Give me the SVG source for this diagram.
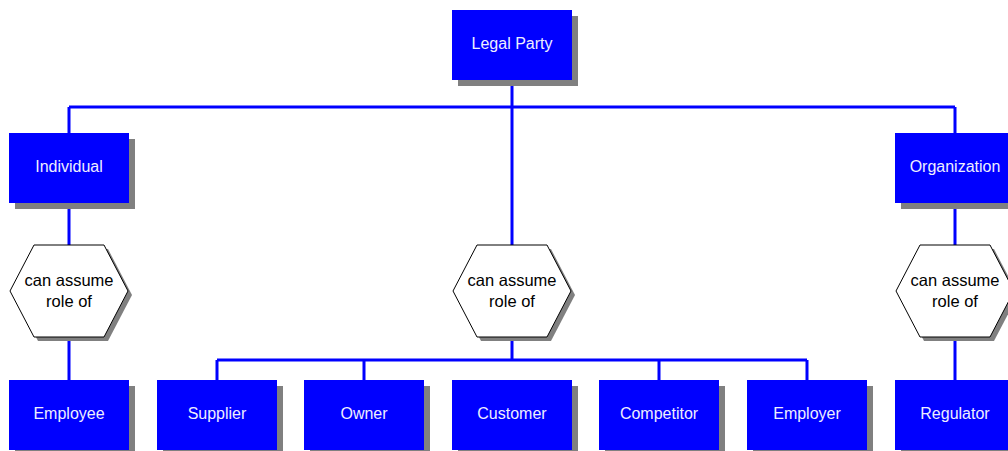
<svg xmlns="http://www.w3.org/2000/svg" width="1008" height="451" viewBox="0 0 1008 451">
<defs>
<style>
.box{fill:#0000ff;}
.sh{fill:#808080;}
.bt{fill:#eeeeff;font-family:"Liberation Sans",Arial,sans-serif;font-size:16px;text-anchor:middle;}
.hx{fill:#ffffff;stroke:#000000;stroke-width:1;}
.ht{fill:#000000;font-family:"Liberation Sans",Arial,sans-serif;font-size:16.5px;text-anchor:middle;}
.c{fill:none;stroke:#0000ff;stroke-width:3;}
</style>
<polygon id="hexsh" points="-55,4 -31,-42 39,-42 63,4 39,50 -31,50" fill="#808080"/>
<polygon id="hex" points="-59,0 -35,-46 35,-46 59,0 35,46 -35,46"/>
</defs>
<rect width="1008" height="451" fill="#ffffff"/>
<g id="connectors">
<path class="c" d="M512 80V245M69 107H955M69 107V133M955 107V133M69 203V245M69 337V380M955 203V245M955 337V380M512 337V360M217 360H807M217 360V380M364 360V380M659 360V380M807 360V380"/>
</g>
<g id="legal-party"><rect class="sh" x="458" y="16" width="120" height="70"/><rect class="box" x="452" y="10" width="120" height="70"/><text class="bt" x="512" y="49">Legal Party</text></g>
<g id="individual"><rect class="sh" x="15" y="139" width="120" height="70"/><rect class="box" x="9" y="133" width="120" height="70"/><text class="bt" x="69" y="172">Individual</text></g>
<g id="organization"><rect class="sh" x="901" y="139" width="120" height="70"/><rect class="box" x="895" y="133" width="120" height="70"/><text class="bt" x="955" y="172">Organization</text></g>
<g id="hex-left" transform="translate(69,291)"><use href="#hexsh"/><use href="#hex" class="hx"/><text class="ht" x="0" y="-5">can assume</text><text class="ht" x="0" y="16">role of</text></g>
<g id="hex-mid" transform="translate(512,291)"><use href="#hexsh"/><use href="#hex" class="hx"/><text class="ht" x="0" y="-5">can assume</text><text class="ht" x="0" y="16">role of</text></g>
<g id="hex-right" transform="translate(955,291)"><use href="#hexsh"/><use href="#hex" class="hx"/><text class="ht" x="0" y="-5">can assume</text><text class="ht" x="0" y="16">role of</text></g>
<g id="employee"><rect class="sh" x="15" y="386" width="120" height="70"/><rect class="box" x="9" y="380" width="120" height="70"/><text class="bt" x="69" y="419">Employee</text></g>
<g id="supplier"><rect class="sh" x="163" y="386" width="120" height="70"/><rect class="box" x="157" y="380" width="120" height="70"/><text class="bt" x="217" y="419">Supplier</text></g>
<g id="owner"><rect class="sh" x="310" y="386" width="120" height="70"/><rect class="box" x="304" y="380" width="120" height="70"/><text class="bt" x="364" y="419">Owner</text></g>
<g id="customer"><rect class="sh" x="458" y="386" width="120" height="70"/><rect class="box" x="452" y="380" width="120" height="70"/><text class="bt" x="512" y="419">Customer</text></g>
<g id="competitor"><rect class="sh" x="605" y="386" width="120" height="70"/><rect class="box" x="599" y="380" width="120" height="70"/><text class="bt" x="659" y="419">Competitor</text></g>
<g id="employer"><rect class="sh" x="753" y="386" width="120" height="70"/><rect class="box" x="747" y="380" width="120" height="70"/><text class="bt" x="807" y="419">Employer</text></g>
<g id="regulator"><rect class="sh" x="901" y="386" width="120" height="70"/><rect class="box" x="895" y="380" width="120" height="70"/><text class="bt" x="955" y="419">Regulator</text></g>
</svg>
